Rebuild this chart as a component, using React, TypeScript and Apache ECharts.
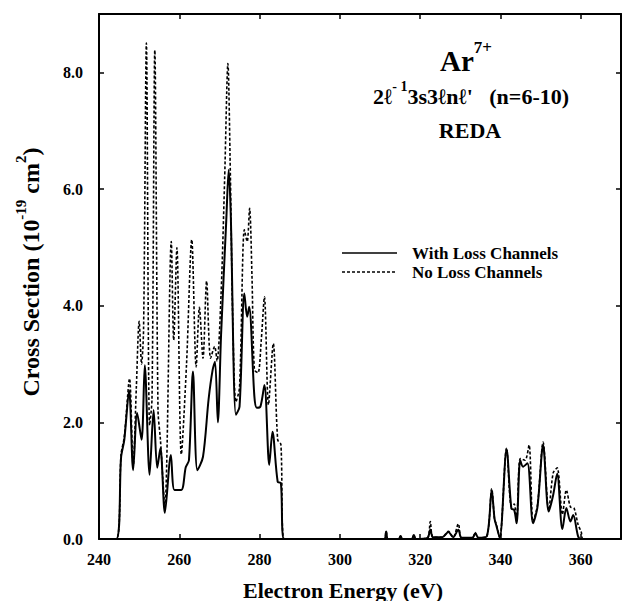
import React, { useEffect, useRef } from 'react';
import * as echarts from 'echarts';

// Energies (eV) and cross sections (1e-19 cm^2)
const withLossEnergy = [240, 244.3, 245.5, 246.3, 247.5, 248.5, 249.5, 250.6, 251.4, 252.6, 253.6, 254.5, 255.3, 256.4, 257.9, 258.8, 260.5, 261.6, 262.4, 263.4, 264.5, 265.9, 267.3, 268.3, 268.9, 269.6, 270.4, 271.7, 272.3, 272.8, 274.1, 275.0, 276.2, 276.9, 277.4, 278.7, 279.3, 280.2, 281.2, 282.4, 283.2, 284.5, 285.3, 286.1, 311.0, 311.5, 312.0, 314.6, 315.1, 315.6, 317.9, 318.4, 318.9, 321.8, 322.5, 323.2, 325.5, 327.0, 328.2, 329.5, 330.3, 333.0, 333.7, 334.5, 336.6, 337.8, 338.5, 339.0, 339.8, 341.5, 342.7, 343.4, 344.0, 344.9, 345.6, 346.7, 348.1, 349.2, 350.6, 352.0, 353.1, 354.1, 355.4, 356.4, 357.4, 358.1, 359.3, 360.0, 370];
const withLoss = [0, 0, 1.4, 1.7, 2.55, 1.18, 2.16, 1.70, 2.98, 1.10, 2.21, 1.22, 1.56, 0.45, 1.44, 0.84, 0.84, 1.23, 1.35, 2.87, 1.18, 1.41, 2.4, 2.9, 3.04, 2.0, 3.5, 5.47, 6.33, 5.6, 2.13, 2.27, 4.21, 3.81, 3.98, 2.44, 2.25, 2.27, 2.64, 1.27, 1.84, 0.98, 0.96, 0, 0, 0.13, 0, 0, 0.05, 0, 0, 0.07, 0, 0.02, 0.16, 0.03, 0.03, 0.12, 0.03, 0.16, 0.02, 0.02, 0.10, 0.02, 0.05, 0.84, 0.35, 0.22, 0.02, 1.54, 0.52, 0.50, 0.27, 1.35, 1.24, 1.30, 0.27, 0.55, 1.61, 0.47, 0.75, 1.12, 0.17, 0.53, 0.30, 0.41, 0.05, 0, 0];

const noLossEnergy = [240, 244.3, 245.5, 246.3, 247.6, 248.5, 249.3, 250.0, 250.6, 251.1, 251.8, 252.6, 253.2, 253.9, 254.7, 255.3, 256.4, 258.0, 258.6, 259.4, 260.5, 261.8, 263.1, 264.2, 265.0, 265.9, 266.8, 267.8, 268.8, 269.4, 270.4, 271.3, 272.1, 272.7, 273.3, 274.1, 275.0, 276.2, 276.9, 277.5, 278.1, 278.7, 279.6, 280.4, 281.2, 282.2, 283.4, 284.5, 285.3, 286.1, 311.0, 311.5, 312.0, 314.6, 315.1, 315.6, 317.9, 318.4, 318.9, 321.8, 322.5, 323.2, 325.5, 327.0, 328.2, 329.5, 330.3, 333.0, 333.7, 334.5, 336.6, 337.8, 338.5, 339.0, 339.8, 341.5, 342.7, 343.4, 344.0, 344.9, 346.1, 347.1, 348.1, 349.2, 350.6, 352.0, 353.1, 354.1, 355.4, 356.4, 357.4, 358.3, 359.3, 360.1, 360.6, 370];
const noLoss = [0, 0, 1.45, 1.75, 2.75, 1.24, 2.6, 3.73, 3.0, 3.6, 8.5, 1.95, 2.4, 8.38, 2.2, 1.7, 0.55, 5.10, 3.41, 4.99, 1.45, 3.0, 5.13, 2.95, 3.97, 3.1, 4.42, 3.1, 3.3, 3.05, 4.2, 6.2, 8.15, 6.3, 3.8, 2.35, 2.6, 5.3, 5.1, 5.67, 4.5, 2.9, 2.85, 3.4, 4.15, 2.3, 3.35, 1.7, 1.62, 0, 0, 0.13, 0, 0, 0.05, 0, 0, 0.07, 0, 0.02, 0.30, 0.03, 0.03, 0.13, 0.03, 0.26, 0.02, 0.02, 0.11, 0.02, 0.05, 0.86, 0.35, 0.24, 0.02, 1.56, 0.55, 0.60, 0.30, 1.38, 1.35, 1.61, 0.30, 0.58, 1.66, 0.50, 1.13, 1.22, 0.42, 0.84, 0.55, 0.53, 0.25, 0.12, 0, 0];

const xMin = 240;
const xMax = 370;
const xStep = 20;
const yMin = 0;
const yMax = 9;
const yStep = 2;

const seriesNames = ['With Loss Channels', 'No Loss Channels'];

const FONT = '"Liberation Serif", "Times New Roman", serif';

export default function App() {
  const ref = useRef<HTMLDivElement>(null);

  useEffect(() => {
    if (!ref.current) return;
    const chart = echarts.init(ref.current, null, { renderer: 'svg' });

    const labelStyle = {
      color: '#000',
      fontFamily: FONT,
      fontWeight: 'bold' as const,
      fontSize: 16,
    };

    const xBase = {
      type: 'value' as const,
      min: xMin,
      max: xMax,
      interval: xStep,
      splitLine: { show: false },
      axisLine: { show: true, onZero: false, lineStyle: { color: '#000', width: 2 } },
      axisTick: { show: true, inside: true, length: 5, lineStyle: { color: '#000', width: 1.5 } },
    };
    const yBase = {
      type: 'value' as const,
      min: yMin,
      max: yMax,
      interval: yStep,
      splitLine: { show: false },
      axisLine: { show: true, onZero: false, lineStyle: { color: '#000', width: 2 } },
      axisTick: { show: true, inside: true, length: 5, lineStyle: { color: '#000', width: 1.5 } },
    };

    const centered = {
      textAlign: 'center',
      textVerticalAlign: 'middle',
      align: 'center',
      verticalAlign: 'middle',
    };

    const legendText = {
      fontFamily: FONT,
      fontWeight: 'bold',
      fontSize: 17,
      lineHeight: 17,
      fill: '#000',
      textAlign: 'left',
      textVerticalAlign: 'middle',
      align: 'left',
      verticalAlign: 'middle',
    };

    const option = {
      animation: false,
      backgroundColor: '#fff',
      grid: { left: 99, right: 2, top: 14, bottom: 62, containLabel: false },
      xAxis: [
        {
          ...xBase,
          position: 'bottom',
          axisLabel: {
            ...labelStyle,
            margin: 12,
            formatter: (v: number) => (v === xMax ? '' : String(v)),
          },
        },
        { ...xBase, position: 'top', axisLabel: { show: false } },
      ],
      yAxis: [
        {
          ...yBase,
          position: 'left',
          axisLabel: {
            ...labelStyle,
            margin: 16,
            formatter: (v: number) => (v === yMax ? '' : v.toFixed(1)),
          },
        },
        { ...yBase, position: 'right', axisLabel: { show: false } },
      ],
      series: [
        {
          name: seriesNames[0],
          type: 'line',
          xAxisIndex: 0,
          yAxisIndex: 0,
          data: withLossEnergy.map((e, i) => [e, withLoss[i]]),
          showSymbol: false,
          smooth: 0.3,
          lineStyle: { color: '#000', width: 2 },
          z: 3,
        },
        {
          name: seriesNames[1],
          type: 'line',
          xAxisIndex: 0,
          yAxisIndex: 0,
          data: noLossEnergy.map((e, i) => [e, noLoss[i]]),
          showSymbol: false,
          smooth: 0.3,
          lineStyle: { color: '#000', width: 1.6, type: [3, 2] },
          z: 2,
        },
      ],
      graphic: [
        {
          type: 'text',
          x: 28,
          y: 272,
          rotation: Math.PI / 2,
          style: {
            ...centered,
            text: '{a|Cross Section (10}{s|-19}{a| cm}{s|2}{a|)}',
            rich: {
              a: { fontFamily: FONT, fontWeight: 'bold', fontSize: 24, lineHeight: 30, fill: '#000', verticalAlign: 'bottom' },
              s: { fontFamily: FONT, fontWeight: 'bold', fontSize: 15, lineHeight: 30, fill: '#000', verticalAlign: 'top' },
            },
          },
        },
        {
          type: 'text',
          x: 343,
          y: 590,
          style: {
            ...centered,
            text: 'Electron Energy (eV)',
            fontFamily: FONT,
            fontWeight: 'bold',
            fontSize: 22,
            fill: '#000',
          },
        },
        {
          type: 'text',
          x: 466,
          y: 57,
          style: {
            ...centered,
            text: '{b|Ar}{s|7+}',
            rich: {
              b: { fontFamily: FONT, fontWeight: 'bold', fontSize: 29, lineHeight: 36, fill: '#000', verticalAlign: 'bottom' },
              s: { fontFamily: FONT, fontWeight: 'bold', fontSize: 17, lineHeight: 36, fill: '#000', verticalAlign: 'top' },
            },
          },
        },
        {
          type: 'text',
          x: 471,
          y: 93,
          style: {
            ...centered,
            text: "{m|2ℓ}{s|- 1}{m|3s3ℓnℓ'   (n=6-10)}",
            rich: {
              m: { fontFamily: FONT, fontWeight: 'bold', fontSize: 22, lineHeight: 28, fill: '#000', verticalAlign: 'bottom' },
              s: { fontFamily: FONT, fontWeight: 'bold', fontSize: 14, lineHeight: 28, fill: '#000', verticalAlign: 'top' },
            },
          },
        },
        {
          type: 'text',
          x: 470,
          y: 130,
          style: {
            ...centered,
            text: 'REDA',
            fontFamily: FONT,
            fontWeight: 'bold',
            fontSize: 22,
            fill: '#000',
          },
        },
        {
          type: 'line',
          shape: { x1: 342, y1: 253, x2: 397, y2: 253 },
          style: { stroke: '#000', lineWidth: 1.5 },
        },
        {
          type: 'text',
          x: 412,
          y: 253,
          style: { ...legendText, text: seriesNames[0] },
        },
        {
          type: 'line',
          shape: { x1: 342, y1: 272, x2: 397, y2: 272 },
          style: { stroke: '#000', lineWidth: 1.5, lineDash: [3, 2] },
        },
        {
          type: 'text',
          x: 412,
          y: 272,
          style: { ...legendText, text: seriesNames[1] },
        },
      ],
    };

    chart.setOption(option as any);
    return () => chart.dispose();
  }, []);

  return (
    <div
      ref={ref}
      style={{ position: 'fixed', left: 0, top: 0, width: 624, height: 601, background: '#fff' }}
    />
  );
}
